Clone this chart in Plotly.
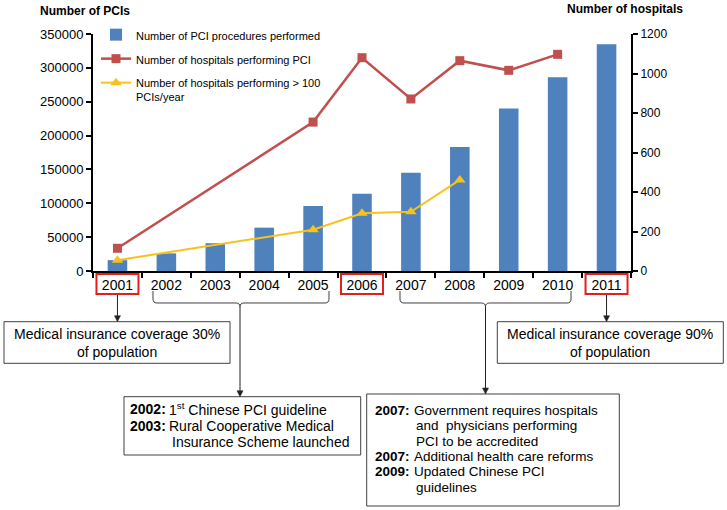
import plotly.graph_objects as go

# ---------------- data ----------------
years = ["2001", "2002", "2003", "2004", "2005", "2006", "2007", "2008", "2009", "2010", "2011"]
pci_procedures = [16000, 26000, 41000, 64000, 96000, 114000, 145000, 183000, 240000, 286000, 335000]
hospitals_pci = [115, None, None, None, 754, 1080, 871, 1065, 1016, 1097, None]
hospitals_over100 = [55, None, None, None, 209, 292, 300, 461, None, None, None]
highlight_years = ["2001", "2006", "2011"]

left_ticks = [0, 50000, 100000, 150000, 200000, 250000, 300000, 350000]
right_ticks = [0, 200, 400, 600, 800, 1000, 1200]

BLUE = "#4F81BD"
RED = "#C0504D"
YELLOW = "#F8C21C"
FONT = "Arial, Liberation Sans, sans-serif"
EDGE = "#404040"

W, H = 727, 510
L, R, T, B = 93, 631, 34, 271  # plot area in pixels


def px(x):
    return (x - L) / (R - L)


def py(y):
    return (B - y) / (B - T)


def cat_center(i):
    return L + (i + 0.5) * (R - L) / len(years)


fig = go.Figure()
fig.add_trace(go.Bar(
    x=years, y=pci_procedures, name="Number of PCI procedures performed",
    marker=dict(color=BLUE, line=dict(width=0)), width=0.4,
    legendgroup="a", yaxis="y"))
fig.add_trace(go.Scatter(
    x=years, y=hospitals_pci, name="Number of hospitals performing PCI",
    mode="lines+markers", connectgaps=True, yaxis="y2",
    line=dict(color=RED, width=2.5),
    marker=dict(symbol="square", size=9, color=RED),
    legendgroup="b"))
fig.add_trace(go.Scatter(
    x=years, y=hospitals_over100,
    name="Number of hospitals performing > 100<br>PCIs/year",
    mode="lines+markers", connectgaps=True, yaxis="y2",
    line=dict(color=YELLOW, width=2),
    marker=dict(symbol="triangle-up", size=10, color=YELLOW),
    legendgroup="c"))

shapes = []
annotations = []

# red boxes round highlighted year labels
for yr in highlight_years:
    c = cat_center(years.index(yr))
    shapes.append(dict(type="rect", xref="paper", yref="paper",
                       x0=px(c - 21), x1=px(c + 21), y0=py(274), y1=py(294),
                       line=dict(color="#E0201E", width=2)))


def path_str(pts, close=False):
    s = ""
    for p in pts:
        cmd = p[0]
        coords = p[1:]
        parts = []
        for k in range(0, len(coords), 2):
            parts.append(f"{px(coords[k]):.5f},{py(coords[k + 1]):.5f}")
        s += cmd + " " + " ".join(parts) + " "
    if close:
        s += "Z"
    return s.strip()


def brace(x1, x2, mid):
    pts = [("M", x1, 291), ("L", x1, 299), ("Q", x1, 303, x1 + 4, 303),
           ("L", mid - 4, 303), ("Q", mid, 303, mid, 307),
           ("Q", mid, 303, mid + 4, 303), ("L", x2 - 4, 303),
           ("Q", x2, 303, x2, 299), ("L", x2, 291)]
    return path_str(pts)


shapes.append(dict(type="path", xref="paper", yref="paper",
                   path=brace(153, 329, 240), line=dict(color=EDGE, width=1)))
shapes.append(dict(type="path", xref="paper", yref="paper",
                   path=brace(400, 571, 485.5), line=dict(color=EDGE, width=1)))

# text boxes
for (x0, y0, x1, y1) in [(4, 321.7, 230, 363.3), (497.3, 321.7, 723.3, 363.3),
                         (124, 396.7, 360.7, 455), (366.7, 394, 619.3, 506)]:
    shapes.append(dict(type="rect", xref="paper", yref="paper",
                       x0=px(x0), x1=px(x1), y0=py(y0), y1=py(y1),
                       line=dict(color=EDGE, width=1)))


def arrow(x, y_tail, y_head):
    shapes.append(dict(type="line", xref="paper", yref="paper",
                       x0=px(x), x1=px(x), y0=py(y_tail), y1=py(y_head - 5),
                       line=dict(color="#222222", width=1)))
    shapes.append(dict(type="path", xref="paper", yref="paper",
                       path=path_str([("M", x - 3, y_head - 6), ("L", x + 3, y_head - 6),
                                      ("L", x, y_head)], close=True),
                       fillcolor="#222222", line=dict(color="#222222", width=0.5)))


arrow(cat_center(0), 295, 321.7)
arrow(cat_center(10), 295, 321.7)
arrow(240, 307, 396.7)
arrow(485.5, 307, 394)


def text(x, y, s, anchor="left", size=14, bold=False):
    if bold:
        s = "<b>" + s + "</b>"
    annotations.append(dict(xref="paper", yref="paper", x=px(x), y=py(y),
                            xanchor=anchor, yanchor="middle", text=s,
                            showarrow=False, align=anchor if anchor != "middle" else "center",
                            font=dict(family=FONT, size=size, color="#000000")))


text(117, 343, "Medical insurance coverage 30%<br>of population", anchor="center")
text(610, 343, "Medical insurance coverage 90%<br>of population", anchor="center")

text(128, 409, "2002:", bold=True)
text(167, 409, "1<sup>st</sup> Chinese PCI guideline")
text(128, 425.5, "2003:", bold=True)
text(167, 425.5, "Rural Cooperative Medical")
text(170, 442, "Insurance Scheme launched")

rows = [410.3, 425.7, 441.1, 456.5, 471.9, 487.3]
RS = 13.5
text(373, rows[0], "2007:", size=RS, bold=True)
text(412, rows[0], "Government requires hospitals", size=RS)
text(414, rows[1], "and  physicians performing", size=RS)
text(414, rows[2], "PCI to be accredited", size=RS)
text(373, rows[3], "2007:", size=RS, bold=True)
text(412, rows[3], "Additional health care reforms", size=RS)
text(373, rows[4], "2009:", size=RS, bold=True)
text(412, rows[4], "Updated Chinese PCI", size=RS)
text(414, rows[5], "guidelines", size=RS)

# axis titles
text(85, 11, "Number of PCIs", anchor="center", size=12, bold=True)
text(625, 9, "Number of hospitals", anchor="center", size=12, bold=True)

fig.update_layout(
    width=W, height=H, autosize=False,
    margin=dict(l=L, r=W - R, t=T, b=H - B, pad=0),
    paper_bgcolor="white", plot_bgcolor="white",
    font=dict(family=FONT, size=13, color="#000000"),
    showlegend=True,
    legend=dict(x=px(96), y=py(21), xanchor="left", yanchor="top",
                bgcolor="rgba(0,0,0,0)", font=dict(family=FONT, size=11, color="#000"),
                itemwidth=30, valign="top", tracegroupgap=5, traceorder="grouped"),
    xaxis=dict(type="category", categoryorder="array", categoryarray=years,
               range=[-0.5, len(years) - 0.5],
               tickson="boundaries", ticks="outside", ticklen=5, tickwidth=1.5,
               tickcolor="#000", showline=True, linecolor="#000", linewidth=2,
               showgrid=False, zeroline=False, tickfont=dict(size=14)),
    yaxis=dict(range=[0, 350000], tickvals=left_ticks, tickformat="d",
               ticks="outside", ticklen=5, tickwidth=1.5, tickcolor="#000",
               showline=True, linecolor="#000", linewidth=2, showgrid=False,
               zeroline=False, tickfont=dict(size=13)),
    yaxis2=dict(range=[0, 1200], tickvals=right_ticks, overlaying="y", side="right",
                ticks="outside", ticklen=5, tickwidth=1.5, tickcolor="#000",
                showline=True, linecolor="#000", linewidth=2, showgrid=False,
                zeroline=False, tickfont=dict(size=12)),
    shapes=shapes,
    annotations=annotations,
)

fig.write_html("out.html", config={"displayModeBar": False},
               post_script="document.body.style.margin='0';document.body.style.overflow='hidden';")
